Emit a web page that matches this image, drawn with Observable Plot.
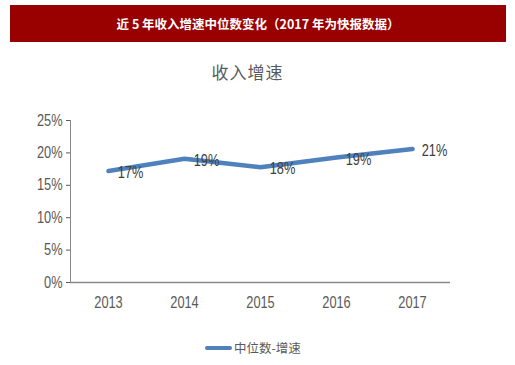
<!DOCTYPE html>
<html>
<head>
<meta charset="utf-8">
<script src="https://cdn.jsdelivr.net/npm/d3@7"></script>
<script src="https://cdn.jsdelivr.net/npm/@observablehq/plot@0.6"></script>
<style>
  html, body { margin: 0; padding: 0; background: #fff; }
  #wrap { position: relative; width: 515px; height: 365px; overflow: hidden; }
  #banner { position: absolute; left: 10px; top: 5px; width: 496px; height: 37px; background: #990000;
    color: #fff; font: bold 12.5px "Noto Sans CJK SC", sans-serif; display: flex; align-items: center; justify-content: center; }
  #title { position: absolute; left: 0; width: 495px; top: 59px; text-align: center; color: #595959;
    font: 17px "Noto Sans CJK SC", serif; letter-spacing: 1px; }
  #chart { position: absolute; left: 0; top: 100px; }
  #legend { position: absolute; left: 205px; top: 338px; display: flex; align-items: center; color: #595959;
    font: 12.5px "Noto Sans CJK SC", sans-serif; }
  #legend .sw { width: 27px; height: 4px; background: #4F81BD; border-radius: 2px; margin-right: 2px; }
</style>
</head>
<body>
<div id="wrap">
  <div id="banner">近 5 年收入增速中位数变化（2017 年为快报数据）</div>
  <div id="title">收入增速</div>
  <div id="chart"></div>
  <div id="legend"><span class="sw"></span><span>中位数-增速</span></div>
</div>
<script>
const years = [2013, 2014, 2015, 2016, 2017];
const growth = [17.2, 19.1, 17.8, 19.3, 20.6];
const yTicks = [0, 5, 10, 15, 20, 25];
const seriesName = "中位数-增速";

const data = years.map((y, i) => ({year: y, value: growth[i]}));
const font = '"Liberation Sans Narrow", "Arial Narrow", "Liberation Sans", sans-serif';

const plot = Plot.plot({
  width: 515,
  height: 215,
  marginTop: 20,
  marginBottom: 33,
  marginLeft: 70,
  marginRight: 65,
  style: {fontFamily: font, fontSize: "16px", color: "#595959", background: "transparent", overflow: "visible"},
  x: {domain: [2012.5, 2017.5], ticks: years, tickFormat: d => String(d), tickSize: 0, tickPadding: 14, label: null},
  y: {domain: [0, 25], ticks: yTicks, tickFormat: d => d + "%", tickSize: 4, tickPadding: 4, label: null},
  marks: [
    Plot.ruleX([2012.5], {stroke: "#888", strokeWidth: 1}),
    Plot.ruleY([0], {stroke: "#888", strokeWidth: 1.5}),
    Plot.line(data, {x: "year", y: "value", stroke: "#4F81BD", strokeWidth: 4.5, strokeLinecap: "round", strokeLinejoin: "round"}),
    Plot.text(data, {x: "year", y: "value", text: d => Math.round(d.value) + "%", dx: 22, dy: 2, fill: "#404040", fontSize: 16})
  ]
});
document.getElementById("chart").appendChild(plot);
// condense text horizontally around its anchor (reference uses a narrow face)
plot.querySelectorAll("text").forEach(t => {
  const b = t.getBBox();
  const anchor = getComputedStyle(t).textAnchor;
  const cx = anchor === "end" ? b.x + b.width : anchor === "middle" ? b.x + b.width / 2 : b.x;
  const tr = t.getAttribute("transform") || "";
  t.setAttribute("transform", `${tr} translate(${cx},0) scale(0.8,1) translate(${-cx},0)`);
});
</script>
</body>
</html>
